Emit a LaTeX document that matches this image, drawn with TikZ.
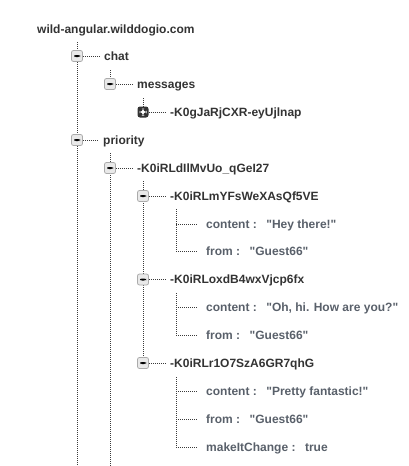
\documentclass[tikz,border=0pt]{standalone}
\usepackage{fontspec}
\setmainfont{Liberation Sans}[Ligatures=TeXOff]
\definecolor{keyink}{HTML}{333333}
\definecolor{leafink}{HTML}{59606A}
\definecolor{wireink}{HTML}{3A3A3A}
\definecolor{boxfill}{HTML}{E9E9E9}
\definecolor{boxrim}{HTML}{ABABAB}
\definecolor{shutfill}{HTML}{333333}

\begin{document}
\begin{tikzpicture}[x=1pt,y=-1pt,
  lbl/.style={anchor=base west, inner sep=0pt,
    font=\fontsize{12}{14}\selectfont\bfseries, text=keyink},
  leaf/.style={lbl, text=leafink},
  wire/.style={draw=wireink, line width=1pt, dash pattern=on 1pt off 1pt},
  opened/.style={draw=boxrim, fill=boxfill, rounded corners=2pt,
    minimum size=11pt, inner sep=0pt, line width=0.8pt,
    path picture={\fill[black]
      ([xshift=-3pt,yshift=-1pt]path picture bounding box.center) rectangle
      ([xshift=3pt,yshift=1pt]path picture bounding box.center);}},
  shut/.style={fill=shutfill, rounded corners=2.5pt,
    minimum size=11pt, inner sep=0pt,
    path picture={\fill[white]
      ([xshift=-3.5pt,yshift=-1pt]path picture bounding box.center) rectangle
      ([xshift=3.5pt,yshift=1pt]path picture bounding box.center);
      \fill[white]
      ([xshift=-1pt,yshift=-3.5pt]path picture bounding box.center) rectangle
      ([xshift=1pt,yshift=3.5pt]path picture bounding box.center);}},
  stem/.style={wire},
  twig/.style={wire, shorten >=5pt},
  leaftwig/.style={wire, shorten >=8pt}
]
\useasboundingbox (0,0) rectangle (408,466);

% ---------- labels ----------
\node[lbl] (root) at (37,33) {wild-angular.wilddogio.com};
\node[lbl] (chat) at (104,60) {chat};
\node[lbl] (msgs) at (137,88) {messages};
\node[lbl] (k0g)  at (170,116) {-K0gJaRjCXR-eyUjlnap};
\node[lbl] (prio) at (103,144) {priority};
\node[lbl] (kd)   at (137,172) {-K0iRLdIlMvUo\_qGeI27};
\node[lbl] (ka)   at (170,200) {-K0iRLmYFsWeXAsQf5VE};
\node[leaf] (ca)  at (206,228) {content :\hspace{9.5pt}"Hey there!"};
\node[leaf] (fa)  at (206,255.5) {from :\hspace{9.5pt}"Guest66"};
\node[lbl] (kb)   at (170,283.5) {-K0iRLoxdB4wxVjcp6fx};
\node[leaf] (cb)  at (206,311) {content :\hspace{9.5pt}"Oh, hi. How are you?"};
\node[leaf] (fb)  at (206,339) {from :\hspace{9.5pt}"Guest66"};
\node[lbl] (kc)   at (170,367) {-K0iRLr1O7SzA6GR7qhG};
\node[leaf] (cc)  at (206,395) {content :\hspace{9.5pt}"Pretty fantastic!"};
\node[leaf] (fc)  at (206,423) {from :\hspace{9.5pt}"Guest66"};
\node[leaf] (mc)  at (206,451) {makeItChange :\hspace{9.5pt}true};

% ---------- toggle centres ----------
\coordinate (pchat) at (77,56);
\coordinate (pmsgs) at (110,84);
\coordinate (pk0g)  at (143,112);
\coordinate (pprio) at (77,140);
\coordinate (pkd)   at (110,168);
\coordinate (pka)   at (143,196);
\coordinate (pkb)   at (143,279.5);
\coordinate (pkc)   at (143,363);

% ---------- branch points ----------
\coordinate (rootdrop) at (77,42);
\coordinate (rootend)  at (77,466);
\coordinate (chatdrop) at (110,70);
\coordinate (msgsdrop) at (143,98);
\coordinate (priodrop) at (110,153);
\coordinate (prioend)  at (110,466);
\coordinate (kddrop)   at (143,181);
\coordinate (kadrop)   at (176,209);
\coordinate (kbdrop)   at (176,293);
\coordinate (kcdrop)   at (176,377);
\coordinate (jca) at (176,224);
\coordinate (jfa) at (176,251.5);
\coordinate (jcb) at (176,307);
\coordinate (jfb) at (176,335);
\coordinate (jcc) at (176,391);
\coordinate (jfc) at (176,419);
\coordinate (jmc) at (176,447);

% ---------- vertical stems ----------
\draw[stem] (rootdrop) -- (rootend);
\draw[stem] (chatdrop) -- (pmsgs);
\draw[stem] (msgsdrop) -- (pk0g);
\draw[stem] (priodrop) -- (prioend);
\draw[stem] (kddrop) -- (pkc);
\draw[stem] (kadrop) -- (jfa);
\draw[stem] (kbdrop) -- (jfb);
\draw[stem] (kcdrop) -- (jmc);

% ---------- toggles, over the stems ----------
\node[opened] (tchat) at (pchat) {};
\node[opened] (tmsgs) at (pmsgs) {};
\node[shut]   (tk0g)  at (pk0g)  {};
\node[opened] (tprio) at (pprio) {};
\node[opened] (tkd)   at (pkd)   {};
\node[opened] (tka)   at (pka)   {};
\node[opened] (tkb)   at (pkb)   {};
\node[opened] (tkc)   at (pkc)   {};

% ---------- horizontal twigs ----------
\draw[twig] (tchat.east) -- (tchat.east -| chat.west);
\draw[twig] (tmsgs.east) -- (tmsgs.east -| msgs.west);
\draw[twig] (tk0g.east)  -- (tk0g.east -| k0g.west);
\draw[twig] (tprio.east) -- (tprio.east -| prio.west);
\draw[twig] (tkd.east)   -- (tkd.east -| kd.west);
\draw[twig] (tka.east)   -- (tka.east -| ka.west);
\draw[twig] (tkb.east)   -- (tkb.east -| kb.west);
\draw[twig] (tkc.east)   -- (tkc.east -| kc.west);
\draw[leaftwig] (jca) -- (jca -| ca.west);
\draw[leaftwig] (jfa) -- (jfa -| fa.west);
\draw[leaftwig] (jcb) -- (jcb -| cb.west);
\draw[leaftwig] (jfb) -- (jfb -| fb.west);
\draw[leaftwig] (jcc) -- (jcc -| cc.west);
\draw[leaftwig] (jfc) -- (jfc -| fc.west);
\draw[leaftwig] (jmc) -- (jmc -| mc.west);
\end{tikzpicture}
\end{document}
